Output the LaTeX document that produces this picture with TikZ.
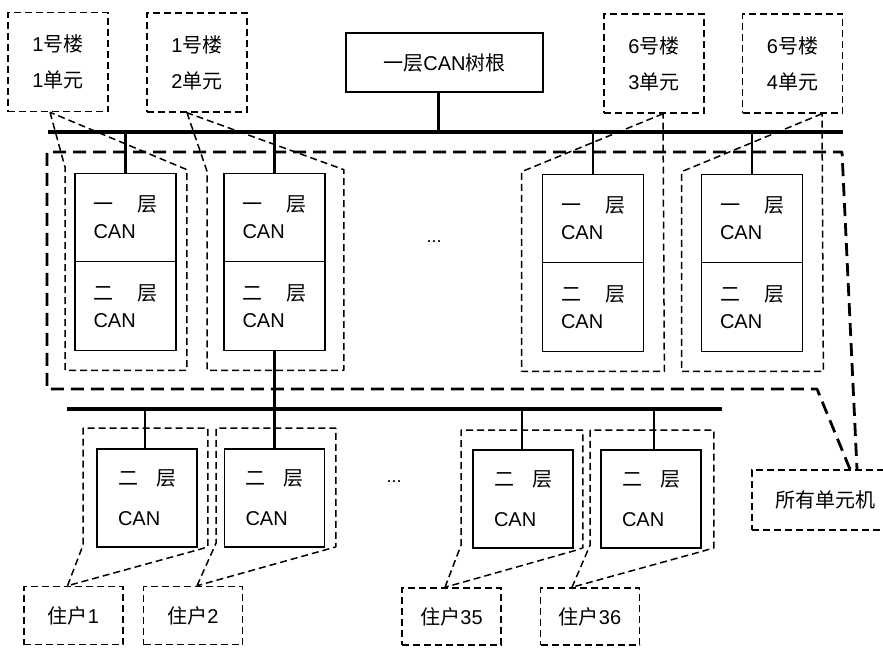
\documentclass[tikz,border=0pt]{standalone}
\usepackage{fontspec}
\setmainfont{Liberation Sans}
\newfontfamily\cjk{Noto Sans CJK SC}
\newcommand{\zh}[1]{{\cjk #1}}
\usetikzlibrary{calc}
\begin{document}
\begin{tikzpicture}[x=1pt,y=-1pt,
  every node/.style={font=\fontsize{20}{24}\selectfont, inner sep=0pt},
  solidbox/.style={draw, line width=1.7pt},
  lbl/.style={draw, line width=1.5pt, dash pattern=on 7pt off 4pt, align=center},
  toplbl/.style={lbl, minimum width=100pt, minimum height=99pt, font=\fontsize{20}{36}\selectfont},
  botlbl/.style={lbl, minimum width=99pt, minimum height=58pt},
  modA/.style={solidbox, minimum width=101pt, minimum height=88pt, text width=64pt, align=left, font=\fontsize{20}{27}\selectfont},
  lowmod/.style={solidbox, minimum width=100pt, minimum height=98pt, text width=58pt, align=left, font=\fontsize{20}{40}\selectfont},
  bus/.style={line width=3.2pt},
  stub/.style={line width=2.6pt},
  callout/.style={line width=1.5pt, dash pattern=on 7pt off 4pt, line join=round},
  bigdash/.style={line width=2.8pt, dash pattern=on 13pt off 7pt, line join=round},
  dotsnode/.style={font=\fontsize{18}{20}\selectfont}
]
\useasboundingbox (0,0) rectangle (883,648);
\fill[white] (0,0) rectangle (883,648);

% top labels
\node[toplbl] (b1) at (58,62) {1\zh{号楼}\\1\zh{单元}};
\node[toplbl] (b2) at (197,62.5) {1\zh{号楼}\\2\zh{单元}};
\node[toplbl] (b3) at (654,63.5) {6\zh{号楼}\\3\zh{单元}};
\node[toplbl] (b4) at (792.5,63.5) {6\zh{号楼}\\4\zh{单元}};

% root
\node[solidbox, minimum width=197pt, minimum height=59pt] (root) at (444.5,62.5) {\zh{一层}CAN\zh{树根}};

% top bus
\coordinate (busL) at (48,132);
\coordinate (busR) at (843,132);
\draw[bus] (busL) -- (busR);
\draw[stub] ([xshift=-6pt]root.south) -- ([xshift=-6pt]root.south |- busL);

% unit modules
\node[modA] (m1a) at (125.5,217.5) {\zh{一}\hfill\zh{层}\\CAN};
\node[modA, minimum height=89pt] (m1b) at (125.5,306) {\zh{二}\hfill\zh{层}\\CAN};
\node[modA] (m2a) at (274.5,217.5) {\zh{一}\hfill\zh{层}\\CAN};
\node[modA, minimum height=89pt] (m2b) at (274.5,306) {\zh{二}\hfill\zh{层}\\CAN};
\node[modA] (m3a) at (593,218.5) {\zh{一}\hfill\zh{层}\\CAN};
\node[modA, minimum height=89pt] (m3b) at (593,307) {\zh{二}\hfill\zh{层}\\CAN};
\node[modA] (m4a) at (752,218.5) {\zh{一}\hfill\zh{层}\\CAN};
\node[modA, minimum height=89pt] (m4b) at (752,307) {\zh{二}\hfill\zh{层}\\CAN};

\foreach \m in {m1a,m2a,m3a,m4a}
  \draw[stub] (\m.north) -- (\m.north |- busL);

\node[dotsnode] (dtop) at (434,242) {...};

% callouts top
\coordinate (a1) at ($(b1.south)+(-8,0)$);
\coordinate (a2) at ($(b2.south)+(-10,0)$);
\coordinate (a3) at ($(b3.south)+(9,0)$);
\coordinate (a4) at ($(b4.south)+(29.5,0)$);
\draw[callout] (a1) -- ($(m1a.north west)+(-9,-5)$) -- ($(m1b.south west)+(-9,19)$)
  -- ($(m1b.south east)+(10,19)$) -- ($(m1a.north east)+(10,-3)$) -- cycle;
\draw[callout] (a2) -- ($(m2a.north west)+(-16,-1)$) -- ($(m2b.south west)+(-16,19)$)
  -- ($(m2b.south east)+(18,19)$) -- ($(m2a.north east)+(18,-3)$) -- cycle;
\draw[callout] (a3) -- ($(m3a.north west)+(-20,-2)$) -- ($(m3b.south west)+(-20,19)$)
  -- ($(m3b.south east)+(20,19)$) -- cycle;
\draw[callout] (a4) -- ($(m4a.north west)+(-19,-2)$) -- ($(m4b.south west)+(-19,19)$)
  -- ($(m4b.south east)+(20,19)$) -- cycle;

% all units box and big outline
\node[lbl, minimum width=146pt, minimum height=60pt] (all) at (825,500) {\zh{所有单元机}};
\draw[bigdash] ($(all.north)+(25,0)$) -- (817,389) -- (47,389) -- (47,152) -- (842,152) -- ($(all.north)+(32,0)$);

% lower bus
\coordinate (bus2L) at (67,409);
\coordinate (bus2R) at (722,409);
\draw[bus] (bus2L) -- (bus2R);

% lower modules
\node[lowmod] (L1) at (147,498) {\zh{二}\hfill\zh{层}\\CAN};
\node[lowmod] (L2) at (274.5,498) {\zh{二}\hfill\zh{层}\\CAN};
\node[lowmod] (L3) at (523,499) {\zh{二}\hfill\zh{层}\\CAN};
\node[lowmod] (L4) at (651,499) {\zh{二}\hfill\zh{层}\\CAN};

\draw[stub] (m2b.south) -- (L2.north);
\draw[stub] ([xshift=-2pt]L1.north) -- ([xshift=-2pt]L1.north |- bus2L);
\draw[stub] ([xshift=-1pt]L3.north) -- ([xshift=-1pt]L3.north |- bus2L);
\draw[stub] ([xshift=3pt]L4.north) -- ([xshift=3pt]L4.north |- bus2L);

\node[dotsnode] (dlow) at (394,482) {...};

% resident labels
\node[botlbl] (u1) at (73.5,615.5) {\zh{住户}1};
\node[botlbl] (u2) at (193,615.5) {\zh{住户}2};
\node[botlbl, minimum height=57pt] (u3) at (451.5,616.5) {\zh{住户}35};
\node[botlbl, minimum height=57pt] (u4) at (590,616.5) {\zh{住户}36};

\coordinate (p1) at ($(u1.north)+(-6,0)$);
\coordinate (p2) at ($(u2.north)+(4,0)$);
\coordinate (p3) at ($(u3.north)+(-6.5,0)$);
\coordinate (p4) at ($(u4.north)+(-18,0)$);

\draw[callout] (p1) -- ($(L1.south west)+(-13,-3)$) -- ($(L1.north west)+(-13,-20)$)
  -- ($(L1.north east)+(10,-20)$) -- ($(L1.south east)+(10,-1)$) -- ($(L1.south east)+(0,2)$) -- cycle;
\draw[callout] (p2) -- ($(L2.south west)+(-7.5,-5)$) -- ($(L2.north west)+(-7.5,-20)$)
  -- ($(L2.north east)+(10.5,-20)$) -- ($(L2.south east)+(10.5,-1)$) -- ($(L2.south east)+(0,2)$) -- cycle;
\draw[callout] (p3) -- ($(L3.south west)+(-11,-4)$) -- ($(L3.north west)+(-11,-19)$)
  -- ($(L3.north east)+(9,-19)$) -- ($(L3.south east)+(9,-1)$) -- ($(L3.south east)+(0,2)$) -- cycle;
\draw[callout] (p4) -- ($(L4.south west)+(-10,-4)$) -- ($(L4.north west)+(-10,-19)$)
  -- ($(L4.north east)+(12,-19)$) -- ($(L4.south east)+(12,-1)$) -- ($(L4.south east)+(2,2)$) -- cycle;
\end{tikzpicture}
\end{document}
